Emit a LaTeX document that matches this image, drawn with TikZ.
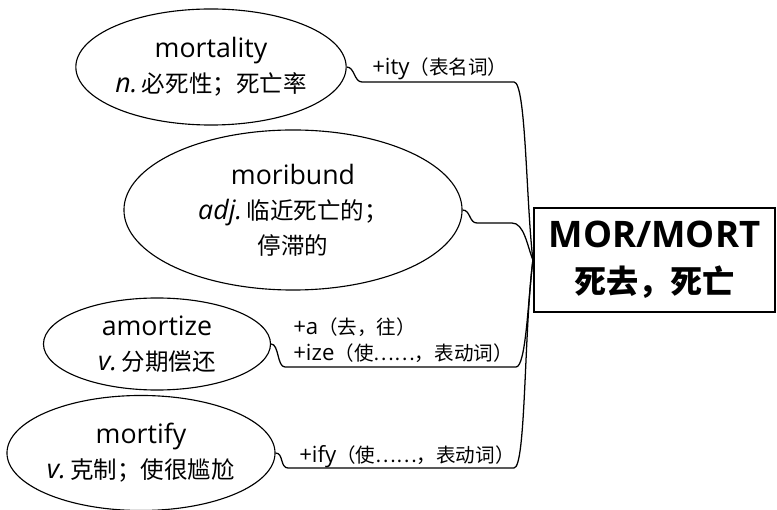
\documentclass[tikz,border=0pt]{standalone}
\usepackage{fontspec}
\setmainfont{Open Sans}
\newfontfamily\zh{Noto Sans CJK SC}[Scale=0.88]
\usetikzlibrary{shapes.geometric}

\tikzset{
  word/.style={ellipse, draw, line width=0.8pt, inner sep=0pt, align=center, font=\fontsize{19}{25}\selectfont},
  root/.style={rectangle, draw, line width=1.5pt, inner sep=0pt, align=center, font=\bfseries\fontsize{26}{33}\selectfont, minimum width=6.025cm, minimum height=2.6cm},
  affix/.style={inner sep=0pt, anchor=base west, font=\fontsize{15.8}{18}\selectfont},
  link/.style={line width=0.9pt},
}

\begin{document}
\begin{tikzpicture}[x=0.025cm, y=-0.025cm]
    \useasboundingbox (0,0) rectangle (777,510);
    % Root box
    \node[root] (root) at (654.5,260) {MOR/MORT\\\zh 死去，死亡};

    % Derived words
    \node[word, minimum width=6.675cm, minimum height=2.9cm] (mortality) at (211,67) {mortality\\\textit{n.}\,{\zh 必死性；死亡率}};
    \node[word, minimum width=8.45cm, minimum height=4cm] (moribund) at (293,210) {moribund\\\textit{adj.}\,{\zh 临近死亡的；}\\{\zh 停滞的}};
    \node[word, minimum width=5.675cm, minimum height=2.3cm] (amortize) at (157,344) {amortize\\\textit{v.}\,{\zh 分期偿还}};
    \node[word, minimum width=6.7cm, minimum height=2.875cm] (mortify) at (141,453) {mortify\\\textit{v.}\,{\zh 克制；使很尴尬}};

    % mortality
    \coordinate (ity-l) at (362,82);
    \coordinate (ity-r) at (514,82);
    \draw[link] (mortality.east) .. controls +(8,0) and +(-8,0) .. (ity-l) -- (ity-r) .. controls (526,82) and (526,200) .. (root.west);
    \node[affix] (ity) at (372,75) {+ity{\zh （表名词）}};

    % moribund
    \coordinate (bund-l) at (477,223);
    \coordinate (bund-r) at (512,223);
    \draw[link] (moribund.east) .. controls +(8,0) and +(-8,0) .. (bund-l) -- (bund-r) .. controls (524,223) and (527,245) .. (root.west);

    % amortize
    \coordinate (ize-l) at (285,367);
    \coordinate (ize-r) at (516,367);
    \draw[link] (amortize.east) .. controls +(8,0) and +(-8,0) .. (ize-l) -- (ize-r) .. controls (526,367) and (528,300) .. (root.west);
    \node[affix] (a) at (293,335) {+a{\zh （去，往）}};
    \node[affix] (ize) at (293,361) {+ize{\zh （使……，表动词）}};

    % mortify
    \coordinate (ify-l) at (288,468);
    \coordinate (ify-r) at (514,468);
    \draw[link] (mortify.east) .. controls +(8,0) and +(-8,0) .. (ify-l) -- (ify-r) .. controls (526,468) and (524,330) .. (root.west);
    \node[affix] (ify) at (299,463) {+ify{\zh （使……，表动词）}};
\end{tikzpicture}
\end{document}
